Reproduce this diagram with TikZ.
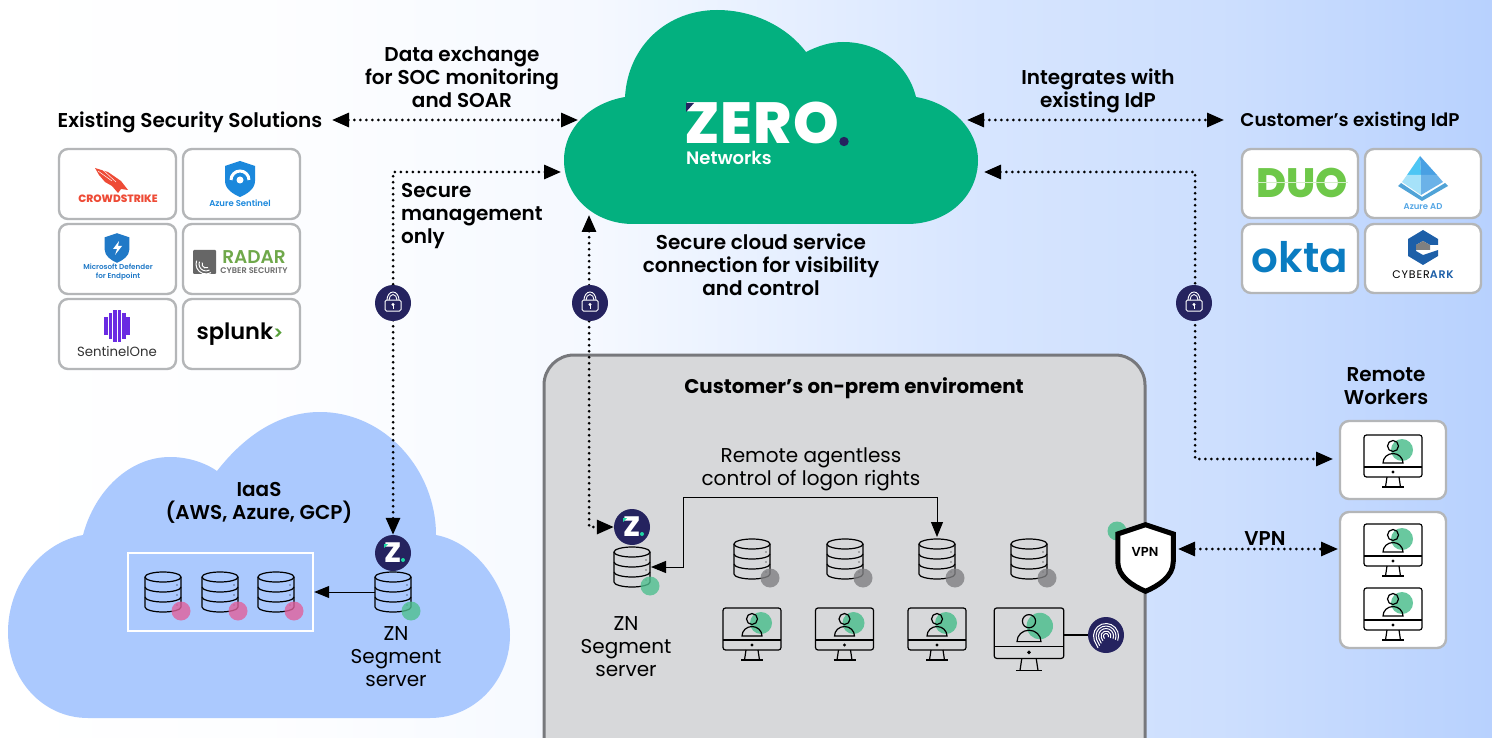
\documentclass[tikz,border=0pt]{standalone}
\usepackage{fontspec}
\setmainfont{Poppins}[BoldFont=Poppins SemiBold]
\newfontfamily\heavyFont{Poppins ExtraBold}
\newfontfamily\strongFont{Poppins Bold}
\usepackage{tikz}
\usetikzlibrary{arrows.meta}

\definecolor{cloudGreen}{HTML}{03B07F}
\definecolor{cloudBlue}{HTML}{ABC9FE}
\definecolor{navyBadge}{HTML}{25235F}
\definecolor{premGray}{HTML}{D7D8DA}
\definecolor{premEdge}{HTML}{77787C}
\definecolor{cardEdge}{HTML}{B4B6B8}
\definecolor{dotGreen}{HTML}{4FBF8F}
\definecolor{dotPink}{HTML}{E0609C}
\definecolor{dotGray}{HTML}{808083}
\definecolor{tealMark}{HTML}{1FD8A4}
\definecolor{strikeRed}{HTML}{EE4B36}
\definecolor{azureBlue}{HTML}{1B88DC}
\definecolor{defenderBlue}{HTML}{2079C7}
\definecolor{radarGreen}{HTML}{6FA84A}
\definecolor{oneViolet}{HTML}{6A2BE2}
\definecolor{duoGreen}{HTML}{6EC849}
\definecolor{oktaBlue}{HTML}{0A7CC1}
\definecolor{arkBlue}{HTML}{1D5FA8}

\pgfdeclarehorizontalshading{pageShade}{100bp}{
  color(0bp)=(white); color(25bp)=(white);
  color(35bp)=(white!97!cloudBlue); color(45bp)=(white!88!cloudBlue);
  color(58bp)=(white!52!cloudBlue); color(66bp)=(white!40!cloudBlue);
  color(75bp)=(white!15!cloudBlue); color(100bp)=(white!15!cloudBlue)}

\tikzset{
  boldText/.style={inner sep=0pt, align=center, font=\fontsize{20}{23}\selectfont\bfseries},
  plainText/.style={inner sep=0pt, align=center, font=\fontsize{20}{23}\selectfont},
  logoCard/.style={draw=cardEdge, fill=white, line width=2.4pt, rounded corners=9pt},
  dotLink/.style={line width=3pt, line cap=round, dash pattern=on 0pt off 6pt,
    {Triangle[length=17pt,width=14pt]}-{Triangle[length=17pt,width=14pt]}},
  darkBadge/.style={circle, fill=navyBadge, minimum size=36pt, inner sep=0pt},
  zBadge/.style={darkBadge, text=white, font=\fontsize{28}{28}\selectfont\heavyFont},
  pics/serverIcon/.style={code={
    \draw[line width=1.2pt, fill=none] (0,-15) ellipse (18 and 5);
    \draw[line width=1.2pt] (-18,-15) -- (-18,15) arc (180:0:18 and 5) -- (18,-15);
    \foreach \y in {-5,5}{
      \draw[line width=1.2pt] (-18,\y) arc (180:0:18 and 5);
    }
    \foreach \y in {-7,3,13}{
      \fill (14,\y) circle (.6);
    }
    \fill[#1, opacity=.8] (18,19) circle (9.5);
  }},
  pics/monitorIcon/.style={code={
    \fill[dotGreen, opacity=.85] (9,15) circle (11);
    \draw[line width=1.2pt] (0,11) circle (5.5);
    \draw[line width=1.2pt] (-10,28) arc (180:360:10 and 9.5) -- cycle;
    \draw[line width=1.2pt, rounded corners=2.5pt] (-29,0) rectangle (29,42);
    \draw[line width=1.2pt] (-29,32) -- (29,32);
    \fill (0,37) circle (1.6);
    \draw[line width=1.2pt] (-6,42) -- (-7.5,52) (6,42) -- (7.5,52);
    \draw[line width=1.5pt] (-11,52) -- (11,52);
  }},
  pics/shieldShape/.style={code={
    \path[#1] (0,-18) -- (15,-13) -- (15,2) .. controls (15,10) and (7,15) .. (0,18)
      .. controls (-7,15) and (-15,10) .. (-15,2) -- (-15,-13) -- cycle;
  }},
}

\begin{document}
\begin{tikzpicture}[x=1pt, y=-1pt]

  \clip (0,0) rectangle (1492,738);
  \useasboundingbox (0,0) rectangle (1492,738);
  \shade[shading=pageShade] (0,0) rectangle (1492,738);

  % clouds
  \fill[cloudGreen] (625,97) .. controls (628,45) and (668,10) .. (717,10)
    .. controls (755,10) and (788,28) .. (806,52)
    .. controls (818,46) and (830,42) .. (843,42)
    .. controls (880,42) and (908,65) .. (916,97)
    .. controls (952,103) and (978,130) .. (978,160)
    .. controls (978,196) and (948,224) .. (907,224) -- (633,224)
    .. controls (594,224) and (564,196) .. (564,160)
    .. controls (564,128) and (590,103) .. (625,97) -- cycle;

  \fill[cloudBlue] (83,535) .. controls (95,490) and (130,457) .. (170,457)
    .. controls (187,457) and (204,462) .. (217,471)
    .. controls (245,435) and (280,412) .. (320,412)
    .. controls (385,412) and (436,470) .. (436,535)
    .. controls (478,543) and (510,590) .. (510,635)
    .. controls (510,680) and (475,718) .. (430,718) -- (88,718)
    .. controls (43,718) and (8,680) .. (8,632)
    .. controls (8,585) and (40,543) .. (83,535) -- cycle;

  % on-prem box
  \filldraw[fill=premGray, draw=premEdge, line width=3pt, rounded corners=30pt]
    (544,355) rectangle (1145,790);

  % logo cards
  \foreach \x in {59,183}{
    \foreach \y in {149,224,299}{
      \draw[logoCard] (\x,\y) rectangle ++(117,70);
    }
  }
  \foreach \x in {1242,1365}{
    \foreach \y in {149,224}{
      \draw[logoCard] (\x,\y) rectangle ++(116,69);
    }
  }
  \draw[logoCard] (1340,421) rectangle (1446,499);
  \draw[logoCard] (1340,512) rectangle (1446,648);

  % titles
  \node[boldText] (dataLabel) at (462,77) {Data exchange\\for SOC monitoring\\and SOAR};
  \node[boldText] (solutionsTitle) at (190,122) {Existing Security Solutions};
  \node[boldText] (idpLabel) at (1098,91) {Integrates with\\existing IdP};
  \node[boldText, font=\fontsize{18.4}{23}\selectfont\bfseries] (idpTitle) at (1350,122) {Customer's existing IdP};
  \node[boldText, align=left, anchor=west] (mgmtLabel) at (401,216) {Secure\\management\\only};
  \node[boldText] (cloudLabel) at (761,265) {Secure cloud service\\connection for visibility\\and control};
  \node[boldText, font=\fontsize{19.8}{23}\selectfont\strongFont] (premTitle) at (854,388) {Customer’s on-prem enviroment};
  \node[plainText] (logonLabel) at (811,469) {Remote agentless\\control of logon rights};
  \node[boldText] (iaasLabel) at (259,503) {IaaS\\(AWS, Azure, GCP)};
  \node[plainText] (segLabelA) at (396,657) {ZN\\Segment\\server};
  \node[plainText] (segLabelB) at (626,647) {ZN\\Segment\\server};
  \node[boldText] (remoteTitle) at (1386,386) {Remote\\Workers};
  \node[boldText] (vpnLabel) at (1265,539) {VPN};

  % zero logo
  \node[inner sep=0pt, anchor=south west, text height=41pt, text depth=0pt, text=white, font=\fontsize{58}{58}\selectfont\heavyFont\addfontfeature{LetterSpace=2}] (zeroWord) at (684,144) {ZERO};
  \node[inner sep=0pt, anchor=west, text=white, font=\fontsize{18}{18}\selectfont\bfseries] (zeroSub) at (686,158) {Networks};
  \fill[navyBadge] (686,103) -- (694,103) -- (686,112) -- cycle;
  \fill[navyBadge] (844,141.5) circle (4.7);

  % security logos
  \node[inner sep=0pt, text=strikeRed, font=\fontsize{10.6}{12}\selectfont\heavyFont] (crowdLogo) at (118,199) {CROWDSTRIKE};
  \fill[strikeRed] (95,168) -- (108,172) -- (121,181) -- (128,190) -- (121,189) -- (118,193)
    -- (112,186) -- (105,182) -- (99,175) -- cycle;
  \draw[white, line width=.5pt] (98,171) -- (112,181) (103,170) -- (116,182);
  \pic at (240,179) {shieldShape={fill=azureBlue}};
  \draw[white, line width=3pt] (231,180) arc (180:360:9 and 9);
  \fill[white] (240,180) circle (3.5);
  \node[boldText, text=azureBlue, font=\fontsize{8.5}{9}\selectfont\bfseries] (sentinelLogo) at (240,203) {Azure Sentinel};
  \pic[scale=.82] at (117,248) {shieldShape={fill=defenderBlue}};
  \fill[white] (119,241) -- (113,249) -- (117,249) -- (115,255) -- (122,246) -- (118,246) -- cycle;
  \node[boldText, text=defenderBlue, font=\fontsize{7.2}{9}\selectfont\bfseries] (defenderLogo) at (118,272) {Microsoft Defender\\for Endpoint};
  \filldraw[fill=gray!80!black, draw=none, rounded corners=1pt] (193,250) rectangle (216,274);
  \foreach \r in {4,7,10}{
    \draw[white, line width=1pt] (206,264) ++(200:\r) arc (200:60:\r);
  }
  \node[inner sep=0pt, text=radarGreen, font=\fontsize{18.5}{20}\selectfont\bfseries] (radarWord) at (254,257) {RADAR};
  \node[inner sep=0pt, text=gray!85!black, font=\fontsize{8.2}{9}\selectfont\bfseries] (radarSub) at (254,271) {CYBER SECURITY};
  \foreach \x/\h in {106/9, 110.5/13, 115/16, 119.5/16, 124/13, 128/9}{
    \fill[oneViolet] (\x-1.6,326-\h) rectangle (\x+1.6,326+\h);
  }
  \node[inner sep=0pt, text=black!80, font=\fontsize{13.3}{15}\selectfont] (sentinelOneLogo) at (117,351) {SentinelOne};
  \node[inner sep=0pt, font=\fontsize{22.5}{27}\selectfont\bfseries] (splunkLogo) at (240,334) {splunk\textcolor{duoGreen!80!black}{\fontsize{18}{20}\selectfont>}};

  % idp logos
  \node[inner sep=0pt, text=duoGreen, font=\fontsize{41}{41}\selectfont\heavyFont] (duoLogo) at (1302,183) {DUO};
  \draw[white!70!duoGreen, line width=1pt] (1257,183) -- (1348,183);
  \fill[cyan!70!white] (1420,156) -- (1407,175) -- (1421,175) -- cycle;
  \fill[azureBlue!80!white] (1420,156) -- (1437,175) -- (1421,175) -- cycle;
  \fill[cyan!35!white] (1407,175) -- (1402,182) -- (1421,195) -- (1421,175) -- cycle;
  \fill[azureBlue!65!white] (1421,175) -- (1421,195) -- (1443,182) -- (1437,175) -- cycle;
  \fill[cyan!40!azureBlue!80!white] (1398,186) -- (1401,183) -- (1422,197) -- (1445,183) -- (1448,186) -- (1422,201) -- cycle;
  \node[inner sep=0pt, text=azureBlue!75!white, font=\fontsize{8.5}{9}\selectfont\bfseries] (azureAdLogo) at (1423,207) {Azure AD};
  \node[inner sep=0pt, text=oktaBlue, font=\fontsize{42}{42}\selectfont\bfseries] (oktaLogo) at (1300,257) {okta};
  \fill[arkBlue] (1423,230) -- (1438,239) -- (1438,245) -- (1430,245) -- (1423,241) -- (1416,245) -- (1416,251) -- (1423,255)
    -- (1438,250) -- (1438,256) -- (1423,265) -- (1408,256) -- (1408,239) -- cycle;
  \fill[gray] (1423,241) -- (1430,245) -- (1430,250) -- (1416,250) -- (1416,245) -- cycle;
  \node[inner sep=0pt, font=\fontsize{11}{11}\selectfont\addfontfeature{LetterSpace=8}] (cyberLogo) at (1423,275) {CYBER\textcolor{arkBlue}{\bfseries ARK}};

  % z badges
  \node[zBadge] (zBadgeIaas) at (393,553) {Z};
  \node[zBadge] (zBadgeOnprem) at (632,527) {Z};
  \foreach \b in {zBadgeIaas, zBadgeOnprem}{
    \fill[tealMark] ([shift={(10,7)}]\b.center) circle (2);
    \fill[tealMark] ([shift={(-9,-9)}]\b.center) -- ++(4,0) -- ++(-4,4) -- cycle;
  }

  % servers
  \node[draw=white, line width=2.4pt, minimum width=185pt, minimum height=78pt, inner sep=0pt] (iaasGroup) at (220.5,592) {};
  \foreach \x in {163,220,276}{
    \pic at (\x,592) {serverIcon=dotPink};
  }
  \coordinate (iaasSeg) at (375,592);
  \pic at (393,592) {serverIcon=dotGreen};
  \pic at (632,567) {serverIcon=dotGreen};
  \foreach \x in {752,845,937,1029}{
    \pic at (\x,559) {serverIcon=dotGray};
  }

  % monitors
  \foreach \x in {752,844.5,937}{
    \pic at (\x,608) {monitorIcon};
  }
  \pic[scale=1.2] at (1029,608) {monitorIcon};
  \pic at (1393,435) {monitorIcon};
  \pic at (1393,524) {monitorIcon};
  \pic at (1393,588) {monitorIcon};

  % fingerprint
  \node[darkBadge] (fingerBadge) at (1106,635) {};
  \coordinate (bigMonitor) at (1064,635);
  \draw[line width=1.2pt] (bigMonitor) -- (fingerBadge);
  \foreach \r in {2.5,5,7.5,10,12.5}{
    \draw[white, line width=1pt, line cap=round] ([shift={(0,1)}]fingerBadge.center) ++(160:\r) arc (160:380:\r);
    \draw[white, line width=1pt, line cap=round] ([shift={(0,1)}]fingerBadge.center) ++(160:\r) -- ++(\r*.3,\r*.6);
  }

  % vpn shield
  \fill[dotGreen, opacity=.85] (1117,531) circle (9.5);
  \pic[scale=1.85] at (1145.5,558) {shieldShape={fill=white, draw=black, line width=5pt, line join=miter}};
  \node[inner sep=0pt, font=\fontsize{13}{14}\selectfont\bfseries] (vpnBadge) at (1145,552) {VPN};

  % connector ends
  \coordinate (solL) at (332,120);
  \coordinate (solR) at (578,120);
  \coordinate (idpL) at (967,120);
  \coordinate (idpR) at (1224,120);
  \coordinate (mgmtEnd) at (561,172);
  \coordinate (mgmtBend) at (393,172);
  \coordinate (svcEnd) at (589,215);
  \coordinate (svcBend) at (589,527);
  \coordinate (userEnd) at (984,172);
  \coordinate (userA) at (1195,172);
  \coordinate (userB) at (1195,459);
  \coordinate (userC) at (1333,459);
  \coordinate (vpnL) at (1178,549);
  \coordinate (vpnR) at (1338,549);
  \coordinate (logonS) at (651,567);
  \coordinate (logonA) at (683,567);
  \coordinate (logonB) at (683,497);
  \coordinate (logonC) at (937,497);
  \coordinate (logonE) at (937,537);

  % connectors
  \draw[dotLink] (solL) -- (solR);
  \draw[dotLink] (idpL) -- (idpR);
  \draw[dotLink] (mgmtEnd) -- (mgmtBend) -- (zBadgeIaas.north);
  \draw[dotLink] (svcEnd) -- (svcBend) -- (zBadgeOnprem.west);
  \draw[dotLink] (userEnd) -- (userA) -- (userB) -- (userC);
  \draw[dotLink] (vpnL) -- (vpnR);
  \draw[line width=1pt, {Triangle[length=15pt,width=12pt]}-{Triangle[length=15pt,width=12pt]}]
    (logonS) -- (logonA) -- (logonB) -- (logonC) -- (logonE);
  \draw[line width=1pt, -{Triangle[length=15pt,width=12pt]}] (iaasSeg) -- (iaasGroup.east);

  % lock badges
  \foreach \n/\x in {lockA/393, lockB/590, lockC/1194}{
    \node[darkBadge] (\n) at (\x,303) {};
    \draw[white, line width=1pt, rounded corners=1.5pt] ([shift={(-8,-3)}]\n.center) rectangle ++(16,11);
    \draw[white, line width=.9pt] ([shift={(-6,-3)}]\n.center) arc (180:360:6 and 8);
    \draw[white, line width=.9pt] ([shift={(-4,-3)}]\n.center) arc (180:360:4 and 5.5);
    \fill[white] ([shift={(0,1.5)}]\n.center) circle (1.6);
    \draw[white, line width=.9pt] ([shift={(0,2)}]\n.center) -- ++(0,3.5);
  }

\end{tikzpicture}
\end{document}
